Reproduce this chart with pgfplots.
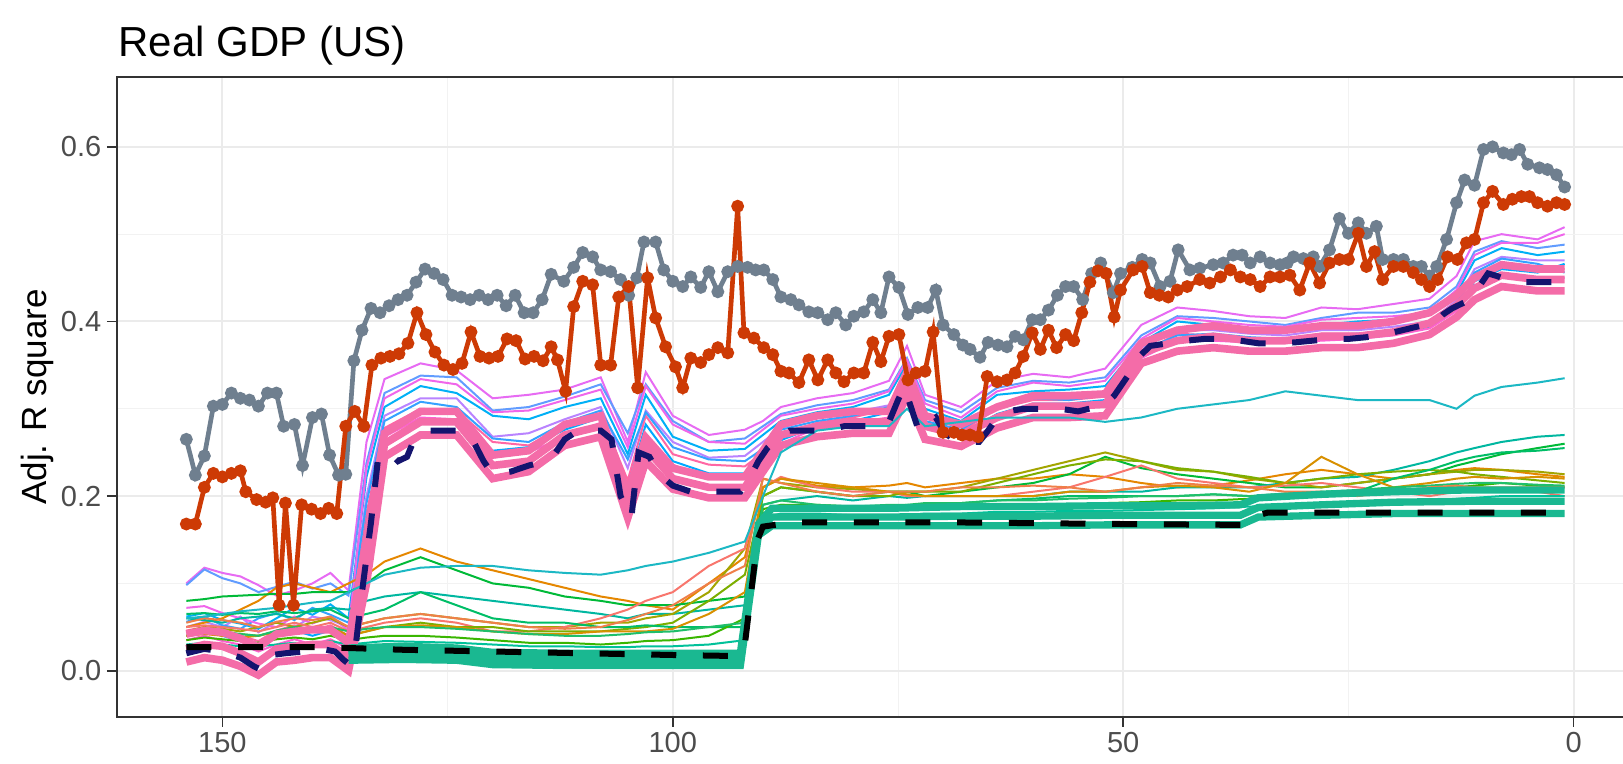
\documentclass[border=0pt]{standalone}
\usepackage{pgfplots}
\pgfplotsset{compat=1.18}
\usepackage{pgfplotstable}
\usepackage{fontspec}
\setmainfont{Liberation Sans}

\definecolor{cU1}{HTML}{E76BF3}
\definecolor{cU2}{HTML}{619CFF}
\definecolor{cU3}{HTML}{00B0F6}
\definecolor{cU4}{HTML}{B983FF}
\definecolor{cU5}{HTML}{FF67A4}
\definecolor{cU6}{HTML}{35A2FF}
\definecolor{cU7}{HTML}{F066EA}
\definecolor{cU8}{HTML}{00A9FF}
\definecolor{cU9}{HTML}{FD61D1}
\definecolor{cU10}{HTML}{1CB8C4}
\definecolor{cL1}{HTML}{E58700}
\definecolor{cL2}{HTML}{00BA38}
\definecolor{cL3}{HTML}{00B7A0}
\definecolor{cL4}{HTML}{A3A500}
\definecolor{cL5}{HTML}{F8766D}
\definecolor{cL6}{HTML}{7CAE00}
\definecolor{cL7}{HTML}{00BE67}
\definecolor{cL8}{HTML}{D89000}
\definecolor{cL9}{HTML}{39B600}
\definecolor{cL10}{HTML}{00C19A}
\definecolor{cL11}{HTML}{1FBF6A}
\definecolor{cL12}{HTML}{EF7F49}
\definecolor{pinkT}{HTML}{F46CA8}
\definecolor{tealT}{HTML}{1AB891}
\definecolor{grayL}{HTML}{6F7F8F}
\definecolor{redL}{HTML}{CD3A05}
\definecolor{navyL}{HTML}{14146E}

\pgfplotstableread{
x U1 U2 U3 U4 U5 U6 U7 U8 U9 U10 L1 L2 L3 L4 L5 L6 L7 L8 L9 L10 L11 L12 P1 P2 P3
154 0.100 0.098 0.062 0.050 0.046 0.056 0.072 0.040 0.035 0.060 0.050 0.080 0.060 0.045 0.050 0.040 0.065 0.040 0.035 0.030 0.045 0.055 0.042 0.025 0.010
152 0.118 0.116 0.066 0.056 0.050 0.062 0.074 0.046 0.040 0.062 0.055 0.082 0.058 0.050 0.052 0.045 0.066 0.042 0.038 0.032 0.048 0.060 0.046 0.030 0.015
150 0.112 0.106 0.058 0.050 0.044 0.052 0.066 0.040 0.034 0.065 0.060 0.085 0.055 0.048 0.050 0.040 0.064 0.040 0.036 0.030 0.045 0.058 0.044 0.028 0.012
148 0.108 0.100 0.054 0.062 0.040 0.048 0.060 0.034 0.030 0.068 0.070 0.086 0.060 0.045 0.048 0.042 0.066 0.038 0.034 0.028 0.042 0.055 0.037 0.020 0.005
146 0.098 0.090 0.048 0.044 0.034 0.060 0.054 0.028 0.022 0.070 0.080 0.087 0.062 0.050 0.045 0.040 0.065 0.040 0.032 0.028 0.040 0.050 0.027 0.010 -0.005
144 0.086 0.096 0.060 0.056 0.046 0.066 0.050 0.040 0.030 0.072 0.095 0.088 0.065 0.055 0.050 0.045 0.068 0.045 0.036 0.030 0.046 0.056 0.042 0.025 0.010
142 0.092 0.102 0.072 0.050 0.052 0.058 0.062 0.046 0.036 0.075 0.100 0.088 0.060 0.050 0.055 0.050 0.066 0.048 0.038 0.032 0.050 0.060 0.045 0.028 0.012
140 0.100 0.094 0.064 0.062 0.046 0.072 0.054 0.040 0.030 0.078 0.095 0.090 0.070 0.055 0.050 0.045 0.068 0.045 0.036 0.030 0.048 0.058 0.047 0.030 0.015
138 0.112 0.100 0.076 0.058 0.052 0.064 0.062 0.046 0.036 0.080 0.090 0.090 0.072 0.060 0.055 0.050 0.070 0.050 0.040 0.034 0.050 0.062 0.047 0.030 0.015
136 0.092 0.086 0.060 0.050 0.040 0.055 0.046 0.030 0.025 0.090 0.100 0.090 0.070 0.050 0.045 0.040 0.060 0.040 0.035 0.030 0.045 0.050 0.032 0.015 0.000
134 0.262 0.238 0.222 0.200 0.180 0.192 0.232 0.170 0.150 0.100 0.110 0.100 0.080 0.055 0.050 0.045 0.065 0.045 0.038 0.032 0.048 0.055 0.150 0.120 0.100
132 0.334 0.318 0.302 0.292 0.278 0.286 0.312 0.274 0.268 0.110 0.125 0.115 0.085 0.060 0.055 0.050 0.070 0.050 0.040 0.034 0.050 0.060 0.272 0.260 0.245
128 0.352 0.338 0.326 0.312 0.300 0.308 0.334 0.296 0.290 0.118 0.140 0.130 0.090 0.065 0.060 0.055 0.090 0.052 0.040 0.033 0.050 0.065 0.297 0.285 0.270
124 0.344 0.336 0.318 0.312 0.298 0.302 0.328 0.294 0.288 0.120 0.125 0.115 0.085 0.060 0.055 0.050 0.075 0.050 0.038 0.032 0.048 0.060 0.297 0.285 0.270
120 0.312 0.298 0.292 0.268 0.262 0.266 0.296 0.252 0.244 0.120 0.115 0.100 0.080 0.055 0.045 0.050 0.060 0.045 0.035 0.030 0.045 0.055 0.247 0.235 0.220
116 0.316 0.302 0.288 0.272 0.258 0.262 0.298 0.256 0.250 0.115 0.105 0.095 0.075 0.050 0.045 0.045 0.055 0.042 0.032 0.028 0.042 0.050 0.252 0.240 0.228
112 0.322 0.314 0.302 0.288 0.282 0.284 0.310 0.276 0.268 0.112 0.095 0.085 0.070 0.050 0.050 0.045 0.055 0.042 0.032 0.028 0.040 0.048 0.282 0.270 0.258
108 0.336 0.328 0.312 0.302 0.294 0.298 0.322 0.290 0.284 0.110 0.085 0.080 0.065 0.055 0.060 0.045 0.050 0.045 0.030 0.027 0.040 0.050 0.292 0.280 0.268
105 0.262 0.272 0.248 0.232 0.218 0.242 0.256 0.210 0.198 0.115 0.080 0.075 0.060 0.055 0.070 0.048 0.050 0.045 0.032 0.027 0.042 0.058 0.202 0.190 0.175
103 0.342 0.328 0.316 0.298 0.292 0.296 0.326 0.282 0.270 0.120 0.075 0.075 0.065 0.060 0.080 0.050 0.052 0.045 0.034 0.028 0.044 0.065 0.267 0.255 0.240
100 0.292 0.286 0.268 0.262 0.248 0.256 0.282 0.240 0.236 0.125 0.070 0.075 0.065 0.065 0.090 0.055 0.050 0.048 0.035 0.028 0.045 0.075 0.232 0.220 0.208
96 0.270 0.262 0.252 0.244 0.236 0.242 0.262 0.226 0.220 0.135 0.100 0.080 0.070 0.090 0.120 0.080 0.050 0.065 0.040 0.030 0.050 0.100 0.222 0.210 0.198
92 0.276 0.266 0.254 0.246 0.234 0.240 0.260 0.226 0.220 0.148 0.130 0.085 0.075 0.140 0.140 0.110 0.050 0.090 0.060 0.035 0.055 0.120 0.222 0.210 0.198
90 0.286 0.280 0.270 0.262 0.250 0.254 0.276 0.246 0.240 0.200 0.210 0.200 0.190 0.220 0.210 0.200 0.180 0.210 0.185 0.175 0.190 0.220 0.252 0.240 0.228
88 0.302 0.294 0.286 0.278 0.270 0.276 0.292 0.264 0.260 0.250 0.220 0.210 0.195 0.215 0.222 0.210 0.190 0.220 0.190 0.180 0.195 0.215 0.282 0.270 0.258
84 0.312 0.304 0.296 0.290 0.284 0.286 0.300 0.280 0.278 0.275 0.212 0.205 0.200 0.210 0.210 0.205 0.188 0.215 0.190 0.180 0.190 0.205 0.292 0.280 0.268
80 0.318 0.310 0.302 0.296 0.290 0.292 0.306 0.286 0.284 0.280 0.210 0.200 0.195 0.208 0.205 0.200 0.185 0.210 0.188 0.178 0.188 0.200 0.297 0.285 0.272
76 0.332 0.322 0.316 0.304 0.300 0.302 0.320 0.296 0.290 0.280 0.212 0.205 0.200 0.205 0.205 0.200 0.188 0.205 0.185 0.178 0.190 0.205 0.297 0.285 0.272
74 0.372 0.358 0.352 0.344 0.340 0.336 0.356 0.334 0.330 0.300 0.215 0.205 0.198 0.205 0.200 0.205 0.190 0.202 0.186 0.178 0.190 0.205 0.342 0.330 0.315
72 0.316 0.310 0.300 0.292 0.284 0.286 0.306 0.280 0.278 0.280 0.210 0.200 0.200 0.205 0.200 0.205 0.190 0.200 0.186 0.180 0.192 0.205 0.292 0.280 0.265
68 0.302 0.296 0.286 0.280 0.274 0.276 0.290 0.270 0.268 0.285 0.215 0.205 0.200 0.210 0.200 0.205 0.192 0.200 0.188 0.180 0.192 0.210 0.282 0.270 0.257
64 0.332 0.324 0.316 0.304 0.300 0.302 0.320 0.294 0.290 0.290 0.220 0.210 0.200 0.220 0.200 0.215 0.195 0.200 0.190 0.182 0.195 0.210 0.302 0.290 0.278
60 0.340 0.332 0.320 0.316 0.310 0.312 0.330 0.306 0.304 0.290 0.220 0.215 0.200 0.230 0.205 0.225 0.197 0.200 0.190 0.182 0.195 0.212 0.315 0.303 0.290
56 0.336 0.330 0.322 0.314 0.310 0.310 0.326 0.306 0.304 0.290 0.225 0.225 0.205 0.240 0.210 0.235 0.200 0.205 0.190 0.183 0.197 0.210 0.315 0.303 0.290
52 0.346 0.336 0.326 0.320 0.314 0.316 0.332 0.310 0.308 0.285 0.222 0.245 0.205 0.250 0.222 0.242 0.200 0.205 0.192 0.183 0.198 0.205 0.317 0.305 0.292
48 0.396 0.384 0.376 0.370 0.364 0.366 0.380 0.360 0.358 0.290 0.215 0.232 0.205 0.240 0.235 0.240 0.200 0.210 0.193 0.184 0.200 0.210 0.375 0.364 0.352
44 0.416 0.406 0.400 0.390 0.386 0.384 0.404 0.380 0.378 0.300 0.210 0.225 0.210 0.230 0.220 0.232 0.200 0.212 0.195 0.185 0.200 0.215 0.390 0.378 0.366
40 0.412 0.404 0.396 0.390 0.384 0.386 0.400 0.380 0.378 0.305 0.212 0.220 0.210 0.228 0.215 0.228 0.202 0.210 0.195 0.186 0.202 0.212 0.395 0.383 0.370
36 0.406 0.400 0.390 0.386 0.380 0.382 0.396 0.378 0.376 0.310 0.218 0.215 0.210 0.220 0.210 0.222 0.200 0.205 0.197 0.188 0.200 0.210 0.390 0.378 0.366
32 0.404 0.396 0.390 0.384 0.380 0.380 0.394 0.378 0.376 0.320 0.225 0.210 0.215 0.215 0.212 0.215 0.200 0.215 0.198 0.189 0.203 0.205 0.390 0.378 0.366
28 0.416 0.404 0.396 0.390 0.386 0.384 0.402 0.380 0.378 0.315 0.230 0.210 0.220 0.210 0.215 0.220 0.202 0.245 0.200 0.190 0.205 0.205 0.395 0.383 0.370
24 0.414 0.410 0.400 0.390 0.386 0.386 0.404 0.382 0.380 0.310 0.225 0.215 0.222 0.215 0.210 0.225 0.205 0.225 0.202 0.192 0.207 0.200 0.395 0.383 0.370
20 0.420 0.410 0.402 0.394 0.390 0.390 0.406 0.386 0.384 0.310 0.220 0.220 0.230 0.220 0.205 0.228 0.220 0.210 0.204 0.193 0.210 0.205 0.400 0.388 0.375
16 0.426 0.416 0.408 0.400 0.396 0.396 0.410 0.394 0.392 0.310 0.225 0.225 0.240 0.225 0.200 0.230 0.230 0.215 0.205 0.195 0.212 0.210 0.410 0.398 0.385
13 0.452 0.440 0.432 0.424 0.420 0.420 0.436 0.414 0.412 0.300 0.230 0.235 0.250 0.228 0.205 0.228 0.240 0.220 0.210 0.197 0.214 0.212 0.430 0.418 0.405
11 0.492 0.480 0.470 0.460 0.454 0.456 0.476 0.446 0.440 0.315 0.232 0.240 0.255 0.230 0.210 0.225 0.245 0.222 0.212 0.198 0.215 0.210 0.450 0.438 0.425
8 0.500 0.492 0.484 0.474 0.466 0.472 0.490 0.460 0.454 0.325 0.230 0.248 0.262 0.230 0.208 0.222 0.250 0.220 0.215 0.200 0.215 0.210 0.465 0.453 0.440
4 0.494 0.484 0.476 0.470 0.462 0.466 0.490 0.456 0.450 0.330 0.225 0.255 0.268 0.228 0.205 0.218 0.252 0.222 0.212 0.200 0.213 0.210 0.460 0.448 0.435
1 0.508 0.488 0.480 0.470 0.460 0.456 0.500 0.466 0.450 0.335 0.222 0.260 0.270 0.225 0.200 0.215 0.255 0.220 0.210 0.200 0.212 0.210 0.460 0.448 0.435
}\data

\pgfplotstableread{
x y
154 0.265
153 0.224
152 0.246
151 0.303
150 0.305
149 0.318
148 0.312
147 0.310
146 0.303
145 0.318
144 0.318
143.2 0.280
142 0.282
141.1 0.235
140 0.290
139 0.294
138.1 0.247
137.1 0.224
136.3 0.225
135.4 0.355
134.5 0.390
133.5 0.415
132.5 0.410
131.5 0.418
130.5 0.425
129.5 0.430
128.5 0.445
127.5 0.460
126.5 0.455
125.5 0.448
124.5 0.430
123.5 0.428
122.5 0.425
121.5 0.430
120.5 0.425
119.5 0.430
118.5 0.418
117.5 0.430
116.5 0.410
115.5 0.410
114.5 0.425
113.5 0.454
112.1 0.446
111 0.462
110 0.479
108.9 0.474
108 0.459
106.9 0.457
105.8 0.448
104.9 0.430
104 0.450
103.2 0.491
101.9 0.491
101 0.459
100 0.446
98.9 0.440
98 0.451
96.9 0.439
96 0.457
95 0.434
93.9 0.457
92.8 0.463
91.7 0.462
90.8 0.459
89.9 0.459
88.9 0.448
88 0.428
86.9 0.425
86 0.419
84.9 0.411
83.9 0.410
82.8 0.402
81.9 0.410
80.8 0.396
79.9 0.406
78.8 0.411
77.8 0.425
76.9 0.410
76 0.451
74.9 0.439
73.9 0.408
72.8 0.416
71.7 0.416
70.8 0.436
70 0.396
68.8 0.385
67.8 0.373
67 0.368
65.9 0.359
65 0.376
63.9 0.373
62.9 0.371
62 0.383
61.1 0.379
60.1 0.402
59.2 0.402
58.3 0.413
57.3 0.430
56.4 0.440
55.5 0.440
54.5 0.425
53.5 0.455
52.5 0.467
51.1 0.433
50.3 0.455
49 0.462
47.9 0.471
47 0.467
45.9 0.440
44.8 0.446
43.9 0.482
42.6 0.459
41.5 0.461
40 0.465
38.9 0.467
37.8 0.476
36.8 0.476
35.9 0.467
34.8 0.474
33.7 0.467
32.6 0.465
31.8 0.467
31.1 0.474
30 0.472
28.9 0.474
28.2 0.463
27.1 0.482
26 0.518
25 0.501
23.9 0.513
23 0.501
21.9 0.509
21.2 0.471
20 0.471
18.9 0.471
17.8 0.463
16.9 0.463
16 0.452
15.2 0.463
14.1 0.494
13 0.536
12.1 0.562
11 0.556
10 0.597
9 0.600
7.8 0.593
6.9 0.591
6 0.597
5.1 0.580
3.8 0.576
2.9 0.574
1.9 0.568
1 0.554
}\grayd

\pgfplotstableread{
x y
154 0.168
153 0.168
152 0.210
151 0.226
150 0.222
149 0.226
148 0.229
147.4 0.205
146.2 0.196
145.2 0.193
144.4 0.198
143.7 0.075
143 0.192
142.1 0.075
141.2 0.190
140.1 0.185
139.1 0.180
138.2 0.186
137.3 0.180
136.3 0.280
135.3 0.297
134.3 0.280
133.4 0.350
132.4 0.358
131.4 0.360
130.4 0.363
129.4 0.375
128.4 0.410
127.4 0.385
126.4 0.365
125.4 0.350
124.4 0.345
123.4 0.352
122.4 0.388
121.4 0.360
120.4 0.358
119.4 0.360
118.4 0.380
117.4 0.378
116.4 0.357
115.4 0.360
114.4 0.355
113.5 0.371
112.8 0.356
111.9 0.320
111 0.417
110 0.446
108.9 0.442
108 0.350
106.9 0.350
106 0.428
104.9 0.440
103.9 0.324
102.8 0.450
101.9 0.404
100.8 0.371
99.7 0.348
98.9 0.324
98 0.358
96.9 0.353
96 0.362
95 0.370
93.9 0.364
92.8 0.532
92.1 0.387
91 0.381
89.9 0.370
88.9 0.362
88 0.343
87.1 0.341
86 0.330
84.9 0.356
83.9 0.333
82.8 0.356
81.9 0.341
81 0.331
79.9 0.341
78.8 0.341
77.8 0.376
76.9 0.354
76 0.383
74.9 0.385
73.9 0.333
73 0.341
72 0.343
71.1 0.388
70 0.273
68.8 0.273
67.9 0.270
67 0.270
66.1 0.268
65.1 0.337
64 0.331
62.9 0.333
62 0.341
61.1 0.360
60.1 0.387
59.2 0.368
58.3 0.390
57.4 0.370
56.4 0.385
55.5 0.378
54.6 0.410
53.7 0.445
52.8 0.458
51.9 0.455
51 0.405
50.3 0.436
48.9 0.459
47.9 0.463
47 0.433
46 0.430
45 0.428
44 0.436
42.9 0.440
41.5 0.448
40.4 0.444
39.2 0.451
38.1 0.459
37 0.451
35.9 0.448
34.8 0.440
33.7 0.451
32.6 0.451
31.5 0.453
30.4 0.436
29.3 0.467
28.2 0.444
27.1 0.467
26 0.471
25 0.471
23.9 0.501
23 0.463
22.1 0.480
21.2 0.448
20 0.463
18.9 0.463
17.8 0.456
16.9 0.448
16 0.440
15.1 0.448
14 0.474
12.9 0.471
11.9 0.490
11 0.494
10 0.536
9 0.549
7.8 0.534
6.8 0.540
5.8 0.543
4.9 0.543
4 0.536
2.9 0.532
1.9 0.536
1 0.534
}\redd

\pgfplotstableread{
x y
154 0.020
152 0.025
150 0.022
148 0.015
146.5 0.005
145.5 0.000
144.5 0.018
143 0.020
141 0.022
139 0.025
137.5 0.022
136.5 0.012
136 0.008
135.3 0.020
134.5 0.090
133.5 0.170
132.7 0.245
131.5 0.250
130.5 0.240
129.5 0.245
128.5 0.270
127 0.275
125 0.275
123 0.275
122 0.260
121 0.240
120 0.225
118 0.228
116 0.235
114 0.240
113 0.250
112 0.265
110.5 0.275
108 0.275
106.8 0.265
105.8 0.200
104.6 0.175
103.8 0.250
102.6 0.245
101.5 0.225
100 0.212
98 0.205
96 0.205
94 0.205
92.5 0.205
91.5 0.220
90.5 0.240
89.5 0.255
88.5 0.265
87 0.275
85 0.275
83 0.275
81 0.280
79 0.280
77 0.280
76 0.285
75 0.310
74.3 0.325
73.5 0.300
72.7 0.275
71.8 0.283
70.8 0.290
69.8 0.272
68.8 0.265
67.5 0.262
66 0.262
65 0.275
64 0.290
63 0.297
61 0.300
59 0.300
57 0.300
55 0.297
53 0.302
52 0.305
51 0.315
50 0.330
49 0.345
48 0.362
47 0.372
45 0.375
43 0.378
41 0.380
39 0.380
37 0.378
35 0.375
33 0.375
31 0.376
29 0.378
27 0.380
25 0.380
23 0.382
21 0.385
19 0.390
17 0.395
15.5 0.398
14.5 0.408
13.5 0.415
12.5 0.420
11.5 0.425
10.5 0.440
9.5 0.455
8.5 0.452
7.5 0.448
6 0.445
4 0.445
2.5 0.445
1 0.445
}\navyd

\pgfplotstableread{
x y
154 0.027
140 0.027
136 0.026
130 0.024
120 0.022
110 0.020
100 0.018
94 0.017
93 0.017
92 0.030
91.3 0.090
90.6 0.150
90 0.165
88 0.168
86 0.170
70 0.170
50 0.168
37 0.167
36 0.167
35 0.178
34 0.181
1 0.181
}\blackd

\pgfplotstableread{
x T1 T2 T3
136 0.026 0.019 0.012
130 0.028 0.021 0.013
124 0.026 0.019 0.012
120 0.021 0.014 0.007
112 0.020 0.013 0.006
104 0.020 0.013 0.006
96 0.020 0.013 0.006
92.5 0.020 0.013 0.006
90.5 0.168 0.160 0.155
89 0.186 0.176 0.166
84 0.186 0.176 0.166
76 0.186 0.176 0.166
68 0.188 0.177 0.166
60 0.188 0.177 0.166
52 0.189 0.178 0.167
44 0.189 0.178 0.167
37 0.190 0.178 0.167
35 0.198 0.187 0.176
28 0.202 0.190 0.178
20 0.205 0.193 0.180
12 0.207 0.194 0.180
1 0.207 0.194 0.180
}\teald

\begin{document}
\begin{tikzpicture}
\begin{axis}[
  at={(0pt,0pt)}, anchor=south west,
  width=457.8pt, height=192pt, scale only axis,
  xmin=-7.7, xmax=161.7, x dir=reverse,
  ymin=-0.053, ymax=0.68,
  xtick={0,50,100,150}, minor xtick={25,75,125},
  ytick={0,0.2,0.4,0.6}, minor ytick={0.1,0.3,0.5},
  grid=both,
  major grid style={color=black!8, line width=0.6pt},
  minor grid style={color=black!5, line width=0.3pt},
  axis line style={color=black!80, line width=0.5pt},
  tick align=outside, xtick pos=bottom, ytick pos=left,
  major tick length=3pt, minor tick length=0pt,
  tick style={color=black!80, line width=0.5pt},
  ticklabel style={font=\fontsize{8.7}{10}\selectfont, text=black!70, inner sep=1.5pt},
  /pgf/number format/assume math mode=true,
  yticklabel style={/pgf/number format/.cd, fixed, fixed zerofill, precision=1},
  ylabel={Adj. R square},
  ylabel style={at={(axis description cs:-0.0518,0.5)}, anchor=center, font=\fontsize{10.5}{12}\selectfont},
  clip=true,
]
\addplot[cU1, line width=0.6pt] table[x=x,y=U1]{\data};
\addplot[cU2, line width=0.6pt] table[x=x,y=U2]{\data};
\addplot[cU3, line width=0.6pt] table[x=x,y=U3]{\data};
\addplot[cU4, line width=0.6pt] table[x=x,y=U4]{\data};
\addplot[cU5, line width=0.6pt] table[x=x,y=U5]{\data};
\addplot[cU6, line width=0.6pt] table[x=x,y=U6]{\data};
\addplot[cU7, line width=0.6pt] table[x=x,y=U7]{\data};
\addplot[cU8, line width=0.6pt] table[x=x,y=U8]{\data};
\addplot[cU9, line width=0.6pt] table[x=x,y=U9]{\data};
\addplot[cL1, line width=0.6pt] table[x=x,y=L1]{\data};
\addplot[cL2, line width=0.6pt] table[x=x,y=L2]{\data};
\addplot[cL3, line width=0.6pt] table[x=x,y=L3]{\data};
\addplot[cL4, line width=0.6pt] table[x=x,y=L4]{\data};
\addplot[cL5, line width=0.6pt] table[x=x,y=L5]{\data};
\addplot[cL6, line width=0.6pt] table[x=x,y=L6]{\data};
\addplot[cL7, line width=0.6pt] table[x=x,y=L7]{\data};
\addplot[cL8, line width=0.6pt] table[x=x,y=L8]{\data};
\addplot[cL9, line width=0.6pt] table[x=x,y=L9]{\data};
\addplot[cL10, line width=0.6pt] table[x=x,y=L10]{\data};
\addplot[cL11, line width=0.6pt] table[x=x,y=L11]{\data};
\addplot[cL12, line width=0.6pt] table[x=x,y=L12]{\data};
\addplot[pinkT, line width=2.3pt] table[x=x,y=P1]{\data};
\addplot[pinkT, line width=2.3pt] table[x=x,y=P2]{\data};
\addplot[pinkT, line width=2.3pt] table[x=x,y=P3]{\data};
\addplot[tealT, line width=2.2pt] table[x=x,y=T1]{\teald};
\addplot[tealT, line width=2.2pt] table[x=x,y=T2]{\teald};
\addplot[tealT, line width=2.2pt] table[x=x,y=T3]{\teald};
\addplot[cU10, line width=0.6pt] table[x=x,y=U10]{\data};
\addplot[navyL, line width=1.8pt, dash pattern=on 7.5pt off 8pt] table[x=x,y=y]{\navyd};
\addplot[black, line width=1.8pt, dash pattern=on 7.5pt off 8pt] table[x=x,y=y]{\blackd};
\addplot[grayL, line width=1.4pt, mark=*, mark size=1.2pt, mark options={solid, fill=grayL, draw=grayL}] table[x=x,y=y]{\grayd};
\addplot[redL, line width=1.4pt, mark=*, mark size=1.2pt, mark options={solid, fill=redL, draw=redL}] table[x=x,y=y]{\redd};
\end{axis}
\node[anchor=base west, inner sep=0pt, font=\fontsize{12.6}{15}\selectfont] at (0.3pt,198pt) {Real GDP (US)};
\pgfresetboundingbox
\useasboundingbox (-35.1pt,-14.1pt) rectangle (451.8pt,215.1pt);
\end{tikzpicture}
\end{document}
